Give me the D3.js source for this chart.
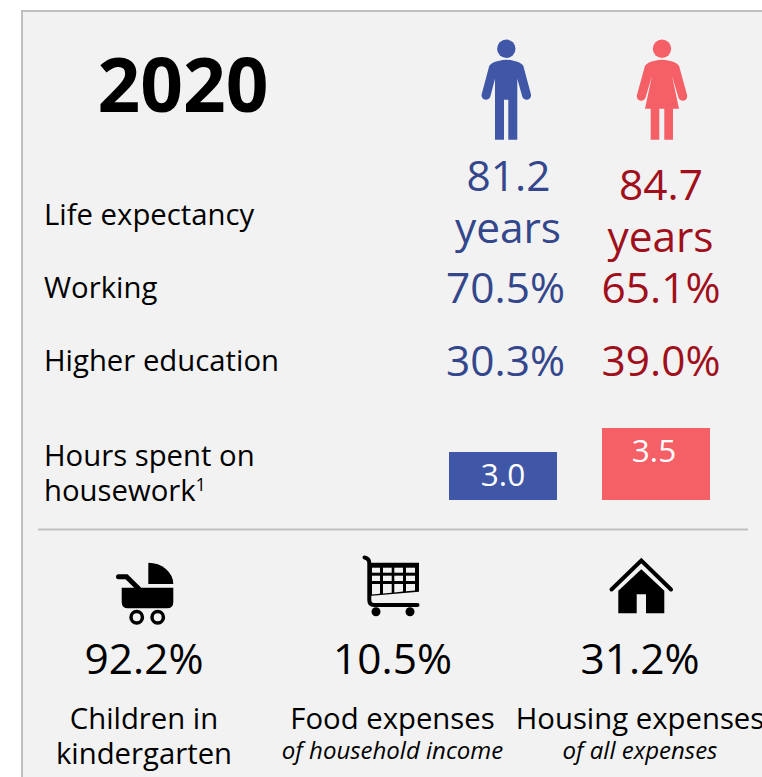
<!DOCTYPE html>
<html>
<head>
<meta charset="utf-8">
<style>
  html, body { margin: 0; padding: 0; background: #fff; overflow: hidden; }
  svg { display: block; }
  text { font-family: "Open Sans", sans-serif; }
</style>
</head>
<body>
<svg id="chart" width="762" height="777"></svg>
<script src="https://cdn.jsdelivr.net/npm/d3@7"></script>
<script>
const year = '2020'
const genders = ['Men', 'Women']
const lifeExpectancy = [81.2, 84.7]
const working = [70.5, 65.1]
const higherEducation = [30.3, 39.0]
const housework = [3.0, 3.5]
const rowLabels = ['Life expectancy', 'Working', 'Higher education']
const bottomValues = [92.2, 10.5, 31.2]
const bottomLabels = ['Children in', 'Food expenses', 'Housing expenses']
const bottomSubLabels = ['kindergarten', 'of household income', 'of all expenses']

const blue = '#4057a8'
const red = '#f55f66'
const blueText = '#34478c'
const redText = '#a0101c'
const panelBg = '#f2f2f2'
const rule = '#bfbfbf'

const svg = d3.select('#chart')

// panel, runs off the right and bottom of the window
svg.append('rect')
  .attr('x', 22).attr('y', 11)
  .attr('width', 800).attr('height', 800)
  .attr('fill', panelBg)
  .attr('stroke', rule)
  .attr('stroke-width', 2)

svg.append('line')
  .attr('x1', 38).attr('x2', 748)
  .attr('y1', 529.5).attr('y2', 529.5)
  .attr('stroke', rule)
  .attr('stroke-width', 2)

svg.append('text')
  .text(year)
  .attr('x', 183).attr('y', 112)
  .attr('text-anchor', 'middle')
  .attr('font-size', 74.8)
  .attr('font-weight', 700)
  .attr('fill', '#000')

// scales
const textX = d3.scaleOrdinal().domain(genders).range([505.5, 661])
const barX = d3.scaleBand().domain(genders).range([449, 710]).paddingInner(45 / 153)
// the bars in the source start from a cut baseline
const barY = d3.scaleLinear().domain([2, 3.5]).range([500, 428])

const fmt = d3.format('.1f')

// left labels
const labelY = [225, 298, 371]
svg.selectAll('.row-label')
  .data(rowLabels)
  .enter()
  .append('text')
  .attr('class', 'row-label')
  .text((d) => d)
  .attr('x', 44)
  .attr('y', (d, i) => labelY[i])
  .attr('font-size', 29.3)
  .attr('fill', '#000')

const hours = svg.append('text')
  .attr('x', 44)
  .attr('font-size', 29.3)
  .attr('fill', '#000')
hours.append('tspan').attr('x', 44).attr('y', 466).text('Hours spent on')
hours.append('tspan').attr('x', 44).attr('y', 501).text('housework')
hours.append('tspan').attr('dy', -10).attr('font-size', 17.5).text('1')

// gender columns
const colours = [blueText, redText]
const lifeY = [191, 200]
genders.forEach((g, i) => {
  const col = svg.append('g').attr('fill', colours[i]).attr('text-anchor', 'middle').attr('font-size', 42.4)
  col.append('text').text(fmt(lifeExpectancy[i])).attr('x', textX(g) + 3 * (i === 0 ? 1 : 0)).attr('y', lifeY[i])
  col.append('text').text('years').attr('x', textX(g) + 3 * (i === 0 ? 1 : 0) - 0.5).attr('y', lifeY[i] + 52)
  col.append('text').text(fmt(working[i]) + '%').attr('x', textX(g)).attr('y', 303)
  col.append('text').text(fmt(higherEducation[i]) + '%').attr('x', textX(g)).attr('y', 376)
})

// housework bars
svg.selectAll('.bar')
  .data(genders)
  .enter()
  .append('rect')
  .attr('class', 'bar')
  .attr('x', (d) => barX(d))
  .attr('width', barX.bandwidth())
  .attr('y', (d, i) => barY(housework[i]))
  .attr('height', (d, i) => barY(2) - barY(housework[i]))
  .attr('fill', (d, i) => (i === 0 ? blue : red))

svg.selectAll('.bar-label')
  .data(genders)
  .enter()
  .append('text')
  .attr('class', 'bar-label')
  .text((d, i) => fmt(housework[i]))
  .attr('x', (d, i) => barX(d) + barX.bandwidth() / 2 - (i === 1 ? 2 : 0))
  .attr('y', (d, i) => barY(housework[i]) + 34)
  .attr('text-anchor', 'middle')
  .attr('font-size', 31.5)
  .attr('fill', '#fff')

// person icons, drawn around the head centre
const man = 'M-7,12 Q0,10 7,12 Q14,13 17,17 L24.5,45 A4.5,4.5 0 0 1 16,48 L11,30 V91 H2 V51 H-2.3 V91 H-11.3 V30 L-16,48 A4.5,4.5 0 0 1 -24.5,45 L-17,17 Q-14,13 -7,12 Z'
const woman = 'M-7,12 Q0,10 7,12 Q14,13 17,17 L25,46 A4.5,4.5 0 0 1 16.5,49 L10,27 L17,60 H11 V91 H2.3 V60 H-2.7 V91 H-11.3 V60 H-17 L-10,27 L-16.5,49 A4.5,4.5 0 0 1 -25,46 L-17,17 Q-14,13 -7,12 Z'
const iconPos = [[506.3, 48.7], [662, 48.7]]
;[man, woman].forEach((p, i) => {
  const g = svg.append('g')
    .attr('transform', `translate(${iconPos[i][0]},${iconPos[i][1]})`)
    .attr('fill', i === 0 ? blue : red)
  g.append('circle').attr('r', 9.2)
  g.append('path').attr('d', p)
})

// pram
const pram = svg.append('g').attr('fill', '#000')
pram.append('path').attr('d', 'M148.3,562.7 A25,21.5 0 0 1 173.3,584 H148.3 Z')
pram.append('path').attr('d', 'M121.7,587.7 H173.3 V602 Q173.3,608.3 167,608.3 H128 Q121.7,608.3 121.7,602 Z')
pram.append('path')
  .attr('d', 'M118.5,576.7 H126.5 L139,589')
  .attr('fill', 'none').attr('stroke', '#000').attr('stroke-width', 5).attr('stroke-linecap', 'round')
;[136.7, 157.7].forEach((cx) => {
  pram.append('circle').attr('cx', cx).attr('cy', 617.3).attr('r', 5.7)
    .attr('fill', 'none').attr('stroke', '#000').attr('stroke-width', 3.5)
})

// trolley
const cart = svg.append('g')
cart.append('path')
  .attr('d', 'M364.5,557.5 Q369.3,558.5 369.3,563 V600 Q369.3,605 374,605 H417.5')
  .attr('fill', 'none').attr('stroke', '#000').attr('stroke-width', 4).attr('stroke-linecap', 'round')
cart.append('path').attr('d', 'M369,562.7 H419 V591.7 L369,596 Z').attr('fill', '#000')
const cartCols = [[372, 380], [383, 391.7], [394.3, 403], [406, 415]]
const cartRows = [[567.7, 572.7], [575.7, 581]]
cartCols.forEach((c) => {
  cartRows.forEach((r) => {
    cart.append('rect').attr('x', c[0]).attr('y', r[0]).attr('width', c[1] - c[0]).attr('height', r[1] - r[0]).attr('fill', panelBg)
  })
  const bottom = (x) => 594.5 - (x - 372) * 0.095
  cart.append('path')
    .attr('d', `M${c[0]},584 H${c[1]} V${bottom(c[1])} L${c[0]},${bottom(c[0])} Z`)
    .attr('fill', panelBg)
})
;[376, 410].forEach((cx) => {
  cart.append('circle').attr('cx', cx).attr('cy', 611.7).attr('r', 4.5).attr('fill', '#000')
})

// house
const house = svg.append('g')
house.append('path')
  .attr('d', 'M611.5,589.5 L641.3,560.5 L671,589.5')
  .attr('fill', 'none').attr('stroke', '#000').attr('stroke-width', 4).attr('stroke-linecap', 'round')
house.append('path')
  .attr('d', 'M641.3,569.3 L664.3,590.7 V613.3 H646 V594.3 H636.7 V613.3 H618.3 V590.7 Z')
  .attr('fill', '#000')

// bottom row
const bottomX = [144, 392.5, 640]
const bottom = svg.selectAll('.bottom')
  .data(bottomValues)
  .enter()
  .append('g')
  .attr('class', 'bottom')
  .attr('text-anchor', 'middle')
  .attr('fill', '#000')

bottom.append('text')
  .text((d) => fmt(d) + '%')
  .attr('x', (d, i) => bottomX[i])
  .attr('y', 674)
  .attr('font-size', 42.4)

bottom.append('text')
  .text((d, i) => bottomLabels[i])
  .attr('x', (d, i) => bottomX[i])
  .attr('y', 729)
  .attr('font-size', 29.3)

bottom.append('text')
  .text((d, i) => bottomSubLabels[i])
  .attr('x', (d, i) => bottomX[i])
  .attr('y', (d, i) => (i === 0 ? 764 : 759))
  .attr('font-size', (d, i) => (i === 0 ? 29.3 : 24))
  .attr('font-style', (d, i) => (i === 0 ? 'normal' : 'italic'))
</script>
</body>
</html>
